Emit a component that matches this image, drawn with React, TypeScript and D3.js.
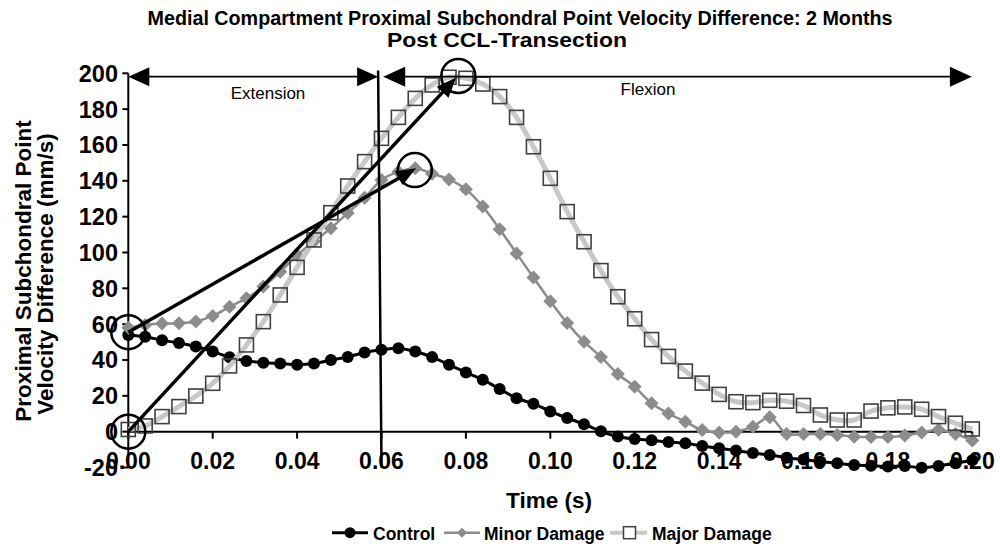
import React from "react";
import * as d3 from "d3";

// time axis (s), one sample every 4 ms
const time = [
  0, 0.004, 0.008, 0.012, 0.016, 0.02, 0.024, 0.028, 0.032, 0.036, 0.04,
  0.044, 0.048, 0.052, 0.056, 0.06, 0.064, 0.068, 0.072, 0.076, 0.08,
  0.084, 0.088, 0.092, 0.096, 0.1, 0.104, 0.108, 0.112, 0.116, 0.12,
  0.124, 0.128, 0.132, 0.136, 0.14, 0.144, 0.148, 0.152, 0.156, 0.16,
  0.164, 0.168, 0.172, 0.176, 0.18, 0.184, 0.188, 0.192, 0.196, 0.2,
];

const control = [
  54, 53, 51, 49.5, 47.5, 44.8, 41.5, 39.5, 38.5, 38, 37.4, 38, 40, 41.7, 44.2, 45.7,
  46.6, 44.7, 41.6, 37.3, 33, 29, 23.8, 18.7, 15.6, 11.3, 7.6, 4.2, 0.2, -2.7,
  -4.1, -4.8, -5.8, -6.5, -8, -9.3, -10.5, -11.9, -13, -14.5, -15.6, -16.7,
  -17.6, -18.6, -19, -19.5, -19.1, -20.2, -19.1, -17.6, -15.9,
];

const minorDamage = [
  58, 59.5, 60.3, 60.5, 61.5, 64.6, 69.7, 74.5, 81, 89.2, 98.5, 106.2, 113.5,
  122, 130.5, 140.5, 145, 147, 144, 140.8, 135.3, 125.6, 113, 99.5, 86, 72.8,
  60.6, 50.2, 41.7, 32.2, 25, 15.8, 10.1, 5.6, 0.9, -0.5, 0, 2.8, 8, -1.3,
  -1.3, -1.3, -1.8, -2.8, -3, -3, -2.2, -0.5, 1, -1.3, -5,
];

const majorDamage = [
  1.2, 3.2, 8.4, 14, 19.9, 27, 36.7, 48.4, 61.4, 76.3, 91.7, 107, 122.2, 137.1,
  150.7, 163.7, 175.4, 186, 193.5, 197.8, 197.2, 194, 187, 175.4, 159, 141.4,
  122.8, 106, 89.9, 75.3, 63, 51.4, 42, 33.8, 27.1, 20.8, 16.7, 16.2, 17.5,
  17, 14.6, 9.3, 6.5, 6.5, 11.5, 13.3, 13.8, 12.5, 8.4, 4.7, 1.5,
];

const xTicks = [0, 0.02, 0.04, 0.06, 0.08, 0.1, 0.12, 0.14, 0.16, 0.18, 0.2];
const yTicks = [-20, 0, 20, 40, 60, 80, 100, 120, 140, 160, 180, 200];

const seriesNames = ["Control", "Minor Damage", "Major Damage"];

const W = 1000;
const H = 551;
const FONT = "'Liberation Sans', Arial, Helvetica, sans-serif";

const x = d3.scaleLinear().domain([0, 0.2]).range([128.3, 972.3]);
const y = d3.scaleLinear().domain([-20, 200]).range([467.5, 73.3]);

const smooth = d3
  .line<number>()
  .x((_, i) => x(time[i]))
  .y((d) => y(d))
  .curve(d3.curveCatmullRom.alpha(0.5));

// triangle arrow head with its tip at (x2,y2)
function head(x1: number, y1: number, x2: number, y2: number, len: number, half: number) {
  const a = Math.atan2(y2 - y1, x2 - x1);
  const bx = x2 - len * Math.cos(a);
  const by = y2 - len * Math.sin(a);
  const px = -Math.sin(a) * half;
  const py = Math.cos(a) * half;
  return `${x2},${y2} ${bx + px},${by + py} ${bx - px},${by - py}`;
}

function Arrow({ x1, y1, x2, y2, w, len, half, both }: any) {
  const a = Math.atan2(y2 - y1, x2 - x1);
  const sx = both ? x1 + Math.cos(a) * len * 0.8 : x1;
  const sy = both ? y1 + Math.sin(a) * len * 0.8 : y1;
  const ex = x2 - Math.cos(a) * len * 0.8;
  const ey = y2 - Math.sin(a) * len * 0.8;
  return (
    <g>
      <line x1={sx} y1={sy} x2={ex} y2={ey} stroke="#000" strokeWidth={w} />
      <polygon points={head(x1, y1, x2, y2, len, half)} fill="#000" />
      {both && <polygon points={head(x2, y2, x1, y1, len, half)} fill="#000" />}
    </g>
  );
}

const diamond = (cx: number, cy: number, r: number) =>
  `M${cx},${cy - r}L${cx + r},${cy}L${cx},${cy + r}L${cx - r},${cy}Z`;

export default function App() {
  const arrowY = y(198.1);
  return (
    <svg
      width={W}
      height={H}
      style={{ position: "absolute", left: 0, top: 0, background: "#fff" }}
      fontFamily={FONT}
    >
      {/* title */}
      <text x={520} y={25} textAnchor="middle" fontSize={20} fontWeight="bold"
        textLength={745} lengthAdjust="spacingAndGlyphs">
        Medial Compartment Proximal Subchondral Point Velocity Difference: 2 Months
      </text>
      <text x={507} y={47} textAnchor="middle" fontSize={20} fontWeight="bold"
        textLength={240} lengthAdjust="spacingAndGlyphs">
        Post CCL-Transection
      </text>

      {/* y axis title */}
      <g fontSize={22.5} fontWeight="bold" textAnchor="middle">
        <text transform="translate(23,271) rotate(-90)" dy="0.36em">Proximal Subchondral Point</text>
        <text transform="translate(45,274) rotate(-90)" dy="0.36em">Velocity Difference (mm/s)</text>
      </g>

      {/* y axis */}
      <line x1={x(0)} x2={x(0)} y1={y(200)} y2={y(-20)} stroke="#000" strokeWidth={2} />
      {yTicks.map((t) => (
        <g key={t}>
          <line x1={x(0) - 6} x2={x(0)} y1={y(t)} y2={y(t)} stroke="#000" strokeWidth={2} />
          <text x={118} y={y(t)} dy="0.36em" textAnchor="end" fontSize={23.5} fontWeight="bold">
            {t}
          </text>
        </g>
      ))}

      {/* x axis through zero */}
      <line x1={x(0)} x2={x(0.2)} y1={y(0)} y2={y(0)} stroke="#000" strokeWidth={2} />
      {xTicks.map((t) => (
        <g key={t}>
          <line x1={x(t)} x2={x(t)} y1={y(0)} y2={y(0) + 7} stroke="#000" strokeWidth={2} />
          <text x={x(t)} y={468.5} textAnchor="middle" fontSize={23} fontWeight="bold">
            {t.toFixed(2)}
          </text>
        </g>
      ))}
      <text x={549} y={508} textAnchor="middle" fontSize={22.5} fontWeight="bold">
        Time (s)
      </text>

      {/* series */}
      <path d={smooth(control) || ""} fill="none" stroke="#000" strokeWidth={3} />
      {control.map((v, i) => (
        <circle key={i} cx={x(time[i])} cy={y(v)} r={6} fill="#000" />
      ))}
      <path d={smooth(minorDamage) || ""} fill="none" stroke="#8c8c8c" strokeWidth={2.5} />
      {minorDamage.map((v, i) => (
        <path key={i} d={diamond(x(time[i]), y(v), 7)} fill="#8c8c8c" />
      ))}
      <path d={smooth(majorDamage) || ""} fill="none" stroke="#c8c8c8" strokeWidth={5} />
      {majorDamage.map((v, i) => (
        <rect key={i} x={x(time[i]) - 7} y={y(v) - 7} width={14} height={14}
          fill="none" stroke="#404040" strokeWidth={1.6} />
      ))}

      {/* phase markers */}
      <line x1={x(0.0592)} y1={y(201.5)} x2={x(0.06)} y2={y(-20)} stroke="#000" strokeWidth={2.5} />
      <Arrow x1={x(0)} y1={arrowY} x2={x(0.0592)} y2={arrowY} w={1.8} len={21} half={9.5} both />
      <Arrow x1={x(0.0604)} y1={arrowY} x2={x(0.1999)} y2={arrowY} w={1.8} len={22} half={10} both />
      <text x={268} y={99} textAnchor="middle" fontSize={17}>Extension</text>
      <text x={648} y={95} textAnchor="middle" fontSize={17}>Flexion</text>

      {/* highlighted points */}
      <g fill="none" stroke="#000" strokeWidth={2.5}>
        <circle cx={x(0)} cy={y(55.5)} r={17} />
        <circle cx={x(0)} cy={y(0)} r={17} />
        <circle cx={x(0.0679)} cy={y(146)} r={17} />
        <circle cx={x(0.0782)} cy={y(198.5)} r={17} />
      </g>
      <Arrow x1={x(0)} y1={y(55.5)} x2={x(0.0682)} y2={y(147)} w={3.5} len={20} half={8} />
      <Arrow x1={x(0)} y1={y(0)} x2={x(0.0777)} y2={y(197.6)} w={3.5} len={20} half={8} />

      {/* legend */}
      <g fontSize={17.5} fontWeight="bold">
        <line x1={332} x2={368} y1={532.7} y2={532.7} stroke="#000" strokeWidth={3} />
        <circle cx={350} cy={532.7} r={5.5} fill="#000" />
        <text x={373} y={539.5}>{seriesNames[0]}</text>

        <line x1={444} x2={480} y1={532.7} y2={532.7} stroke="#8c8c8c" strokeWidth={2.5} />
        <path d={diamond(462, 532.7, 5)} fill="#8c8c8c" />
        <text x={484} y={539.5}>{seriesNames[1]}</text>

        <line x1={610} x2={647} y1={532.7} y2={532.7} stroke="#c8c8c8" strokeWidth={4} />
        <rect x={623.5} y={526.7} width={12} height={12} fill="#fff" stroke="#404040" strokeWidth={1.5} />
        <text x={652} y={539.5}>{seriesNames[2]}</text>
      </g>
    </svg>
  );
}
